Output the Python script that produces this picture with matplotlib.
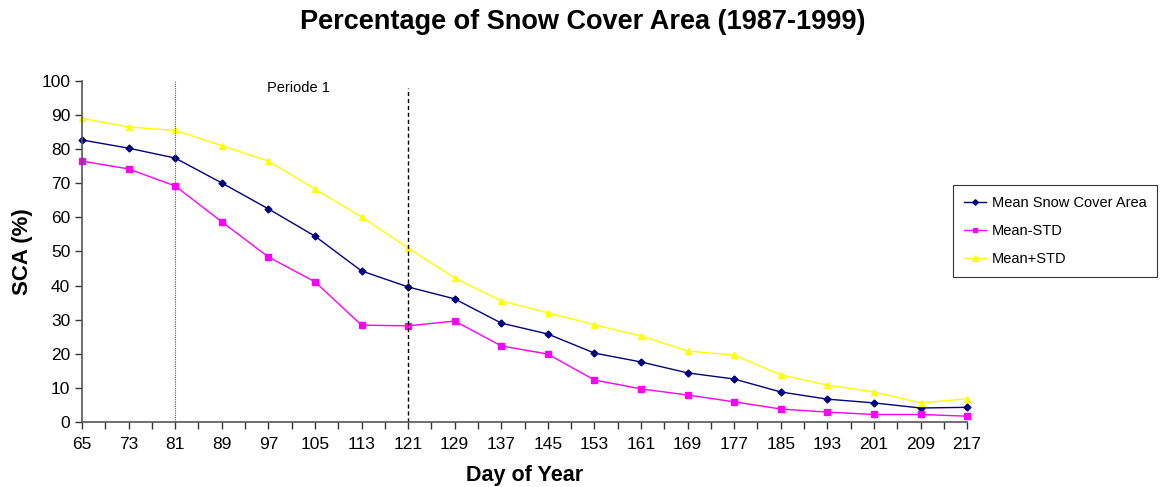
import matplotlib
matplotlib.use("Agg")
import matplotlib.pyplot as plt

plt.rcParams['font.family'] = ['Liberation Sans', 'DejaVu Sans']

days = list(range(65, 218, 8))
mean_sca = [82.7, 80.3, 77.4, 70.1, 62.5, 54.5, 44.3, 39.6, 36.1, 29.0,
            25.8, 20.2, 17.6, 14.4, 12.6, 8.8, 6.7, 5.6, 4.1, 4.3]
mean_minus_std = [76.5, 74.2, 69.2, 58.7, 48.4, 41.1, 28.4, 28.2, 29.6, 22.3,
                  19.9, 12.3, 9.7, 7.9, 5.9, 3.8, 2.9, 2.2, 2.2, 1.7]
mean_plus_std = [89.0, 86.5, 85.5, 81.0, 76.5, 68.3, 60.1, 51.0, 42.2, 35.5,
                 32.0, 28.5, 25.2, 20.8, 19.6, 13.8, 10.8, 8.8, 5.6, 6.8]
period_start = 81
period_end = 121

fig = plt.figure(figsize=(11.6, 4.87), dpi=100)
ax = fig.add_axes([0.0707, 0.1335, 0.763, 0.7002])

ax.plot(days, mean_sca, color='#000080', marker='D', markersize=3.5, lw=1,
        label='Mean Snow Cover Area', clip_on=False)
ax.plot(days, mean_minus_std, color='#FF00FF', marker='s', markersize=4, lw=1,
        label='Mean-STD', clip_on=False)
ax.plot(days, mean_plus_std, color='#FFFF00', marker='^', markersize=5, lw=1,
        label='Mean+STD', clip_on=False)

ax.axvline(period_start, color='#555555', lw=0.8, ls=(0, (1, 1)))
ax.axvline(period_end, color='black', lw=1, ls=(0, (3, 2)), ymax=0.98)
ax.text(102.2, 98, 'Periode 1', fontsize=10.5, ha='center', va='center')

ax.set_xlim(65, 217)
ax.set_ylim(0, 100)
ax.set_xticks(days)
ax.set_xticks(range(69, 217, 8), minor=True)
ax.set_yticks(range(0, 101, 10))
ax.tick_params(axis='both', labelsize=12.5, length=5, width=1, color='#333333')
ax.tick_params(axis='x', which='minor', length=5, width=1, color='#333333')
ax.tick_params(axis='x', pad=6)
for s in ['top', 'right']:
    ax.spines[s].set_visible(False)
for s in ['left', 'bottom']:
    ax.spines[s].set_color('#555555')
    ax.spines[s].set_linewidth(1.2)

fig.suptitle('Percentage of Snow Cover Area (1987-1999)', fontsize=19.5,
             fontweight='bold', x=0.502, y=0.955, va='center')
ax.set_xlabel('Day of Year', fontsize=15.5, fontweight='bold', labelpad=9)
ax.set_ylabel('SCA (%)', fontsize=16, fontweight='bold', labelpad=6)

leg = ax.legend(loc='upper left', bbox_to_anchor=(0.984, 0.695), fontsize=10.5,
                frameon=True, fancybox=False, edgecolor='black',
                handlelength=1.5, borderpad=0.75, labelspacing=0.95,
                handletextpad=0.4, markerscale=0.8, borderaxespad=0)
leg.get_frame().set_linewidth(0.8)

fig.savefig('out.png', dpi=100)
